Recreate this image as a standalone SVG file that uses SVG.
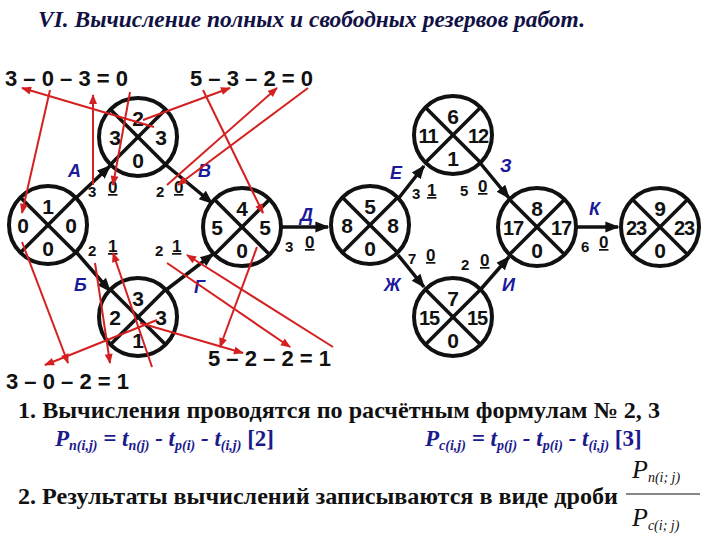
<svg xmlns="http://www.w3.org/2000/svg" width="720" height="540" viewBox="0 0 720 540">
<defs>
<marker id="ab" viewBox="0 0 10 10" refX="9" refY="5" markerWidth="4" markerHeight="4" orient="auto"><path d="M0,1 L10,5 L0,9 z" fill="#111"/></marker>
<marker id="ar" viewBox="0 0 10 10" refX="9" refY="5" markerWidth="6" markerHeight="5" orient="auto"><path d="M0,1 L10,5 L0,9 z" fill="#d42020"/></marker>
</defs>
<style>
.c{fill:#fff;stroke:#111;stroke-width:4}
.x{stroke:#111;stroke-width:3.5}
.n{font-family:"Liberation Sans",Arial,sans-serif;font-weight:bold;font-size:21px;fill:#111;text-anchor:middle}
.n2{font-family:"Liberation Sans",Arial,sans-serif;font-weight:bold;font-size:20px;fill:#111;text-anchor:middle;letter-spacing:-1px}
.e{stroke:#111;stroke-width:3.5;fill:none;marker-end:url(#ab)}
.r{stroke:#d42020;stroke-width:2;fill:none;marker-end:url(#ar)}
.lb{font-family:"Liberation Sans",Arial,sans-serif;font-weight:bold;font-style:italic;font-size:18px;fill:#1a1a9a}
.s{font-family:"Liberation Sans",Arial,sans-serif;font-weight:bold;font-size:15px;fill:#111}
.u{font-family:"Liberation Sans",Arial,sans-serif;font-weight:bold;font-size:17px;fill:#111;text-decoration:underline}
.eq{font-family:"Liberation Sans",Arial,sans-serif;font-weight:bold;font-size:22px;fill:#111}
.t{font-family:"Liberation Serif","Times New Roman",serif;font-weight:bold;font-size:23px;fill:#111}
.f{font-family:"Liberation Serif","Times New Roman",serif;font-weight:bold;font-style:italic;font-size:23px;fill:#1a1a8c}
.fs{font-size:14px}
.fr{font-family:"Liberation Serif","Times New Roman",serif;font-style:italic;font-size:26px;fill:#111}
</style>
<text x="38" y="27" textLength="547" lengthAdjust="spacingAndGlyphs" style="font-family:'Liberation Serif',serif;font-weight:bold;font-style:italic;font-size:23px;fill:#111144">VI. Вычисление полных и свободных резервов работ.</text>

<g id="connectors">
<line class="e" x1="77" y1="197" x2="110" y2="166"/>
<line class="e" x1="166" y1="165" x2="212" y2="203"/>
<line class="e" x1="77" y1="253" x2="110" y2="291"/>
<line class="e" x1="166" y1="290" x2="213" y2="254"/>
<line class="e" x1="282" y1="227" x2="328" y2="227"/>
<line class="e" x1="398" y1="199" x2="424" y2="166"/>
<line class="e" x1="398" y1="255" x2="424" y2="287"/>
<line class="e" x1="481" y1="164" x2="509" y2="198"/>
<line class="e" x1="481" y1="289" x2="509" y2="257"/>
<line class="e" x1="577" y1="227" x2="618" y2="227"/>
</g>

<g id="n1"><circle class="c" cx="48" cy="225" r="39"/><line class="x" x1="20.5" y1="197.5" x2="75.5" y2="252.5"/><line class="x" x1="75.5" y1="197.5" x2="20.5" y2="252.5"/>
<text class="n" x="48" y="214">1</text><text class="n" x="23" y="233">0</text><text class="n" x="71" y="233">0</text><text class="n" x="48" y="256">0</text></g>
<g id="n2"><circle class="c" cx="138" cy="137" r="39"/><line class="x" x1="110.5" y1="109.5" x2="165.5" y2="164.5"/><line class="x" x1="165.5" y1="109.5" x2="110.5" y2="164.5"/>
<text class="n" x="138" y="126">2</text><text class="n" x="115" y="145">3</text><text class="n" x="161" y="145">3</text><text class="n" x="138" y="168">0</text></g>
<g id="n3"><circle class="c" cx="138" cy="317" r="39"/><line class="x" x1="110.5" y1="289.5" x2="165.5" y2="344.5"/><line class="x" x1="165.5" y1="289.5" x2="110.5" y2="344.5"/>
<text class="n" x="138" y="306">3</text><text class="n" x="115" y="325">2</text><text class="n" x="161" y="325">3</text><text class="n" x="138" y="348">1</text></g>
<g id="n4"><circle class="c" cx="242" cy="227" r="39"/><line class="x" x1="214.5" y1="199.5" x2="269.5" y2="254.5"/><line class="x" x1="269.5" y1="199.5" x2="214.5" y2="254.5"/>
<text class="n" x="242" y="216">4</text><text class="n" x="217" y="235">5</text><text class="n" x="265" y="235">5</text><text class="n" x="242" y="258">0</text></g>
<g id="n5"><circle class="c" cx="370" cy="225" r="39"/><line class="x" x1="342.5" y1="197.5" x2="397.5" y2="252.5"/><line class="x" x1="397.5" y1="197.5" x2="342.5" y2="252.5"/>
<text class="n" x="370" y="214">5</text><text class="n" x="347" y="233">8</text><text class="n" x="393" y="233">8</text><text class="n" x="370" y="256">0</text></g>
<g id="n6"><circle class="c" cx="453" cy="135" r="39"/><line class="x" x1="425.5" y1="107.5" x2="480.5" y2="162.5"/><line class="x" x1="480.5" y1="107.5" x2="425.5" y2="162.5"/>
<text class="n" x="453" y="124">6</text><text class="n2" x="428" y="143">11</text><text class="n2" x="478" y="143">12</text><text class="n" x="453" y="166">1</text></g>
<g id="n7"><circle class="c" cx="453" cy="317" r="39"/><line class="x" x1="425.5" y1="289.5" x2="480.5" y2="344.5"/><line class="x" x1="480.5" y1="289.5" x2="425.5" y2="344.5"/>
<text class="n" x="453" y="306">7</text><text class="n2" x="429" y="325">15</text><text class="n2" x="477" y="325">15</text><text class="n" x="453" y="348">0</text></g>
<g id="n8"><circle class="c" cx="537" cy="227" r="39"/><line class="x" x1="509.5" y1="199.5" x2="564.5" y2="254.5"/><line class="x" x1="564.5" y1="199.5" x2="509.5" y2="254.5"/>
<text class="n" x="537" y="216">8</text><text class="n2" x="513" y="235">17</text><text class="n2" x="561" y="235">17</text><text class="n" x="537" y="258">0</text></g>
<g id="n9"><circle class="c" cx="660" cy="227" r="39"/><line class="x" x1="632.5" y1="199.5" x2="687.5" y2="254.5"/><line class="x" x1="687.5" y1="199.5" x2="632.5" y2="254.5"/>
<text class="n" x="660" y="216">9</text><text class="n2" x="636" y="235">23</text><text class="n2" x="684" y="235">23</text><text class="n" x="660" y="258">0</text></g>

<g id="labels">
<text class="lb" x="68" y="177">А</text><text class="s" x="88" y="197">3</text><text class="u" x="108" y="193">0</text>
<text class="lb" x="198" y="177">В</text><text class="s" x="156" y="197">2</text><text class="u" x="174" y="193">0</text>
<text class="lb" x="74" y="291">Б</text><text class="s" x="88" y="256">2</text><text class="u" x="108" y="252">1</text>
<text class="lb" x="194" y="293">Г</text><text class="s" x="155" y="256">2</text><text class="u" x="172" y="252">1</text>
<text class="lb" x="300" y="221">Д</text><text class="s" x="285" y="252">3</text><text class="u" x="305" y="248">0</text>
<text class="lb" x="390" y="179">Е</text><text class="s" x="412" y="199">3</text><text class="u" x="427" y="196">1</text>
<text class="lb" x="500" y="172">З</text><text class="s" x="460" y="196">5</text><text class="u" x="478" y="192">0</text>
<text class="lb" x="384" y="291">Ж</text><text class="s" x="408" y="264">7</text><text class="u" x="426" y="261">0</text>
<text class="lb" x="502" y="291">И</text><text class="s" x="461" y="270">2</text><text class="u" x="480" y="266">0</text>
<text class="lb" x="589" y="215">К</text><text class="s" x="581" y="252">6</text><text class="u" x="599" y="248">0</text>
</g>

<g id="equations">
<text class="eq" x="5" y="86">3 – 0 – 3 = 0</text>
<text class="eq" x="190" y="86">5 – 3 – 2 = 0</text>
<text class="eq" x="6" y="389">3 – 0 – 2 = 1</text>
<text class="eq" x="208" y="366">5 – 2 – 2 = 1</text>
</g>

<g id="red">
<line class="r" x1="154" y1="127" x2="22" y2="88"/>
<line class="r" x1="50" y1="90" x2="22" y2="213"/>
<line class="r" x1="93" y1="185" x2="93" y2="95"/>
<line class="r" x1="130" y1="92" x2="113" y2="185"/>
<line class="r" x1="143" y1="120" x2="230" y2="88"/>
<line class="r" x1="167" y1="185" x2="277" y2="88"/>
<line class="r" x1="308" y1="88" x2="178" y2="185"/>
<line class="r" x1="203" y1="90" x2="263" y2="213"/>
<line class="r" x1="22" y1="242" x2="68" y2="363"/>
<line class="r" x1="95" y1="263" x2="110" y2="363"/>
<line class="r" x1="152" y1="367" x2="113" y2="253"/>
<line class="r" x1="157" y1="320" x2="45" y2="365"/>
<line class="r" x1="140" y1="323" x2="243" y2="353"/>
<line class="r" x1="257" y1="247" x2="220" y2="347"/>
<line class="r" x1="167" y1="263" x2="290" y2="347"/>
<line class="r" x1="333" y1="347" x2="187" y2="255"/>
</g>

<g id="text">
<text class="t" x="18" y="418" textLength="642" lengthAdjust="spacingAndGlyphs">1. Вычисления проводятся по расчётным формулам № 2, 3</text>
<text class="f" x="55" y="446">P<tspan class="fs" dy="4">n(i,j)</tspan><tspan dy="-4"> = t</tspan><tspan class="fs" dy="4">n(j)</tspan><tspan dy="-4"> - t</tspan><tspan class="fs" dy="4">p(i)</tspan><tspan dy="-4"> - t</tspan><tspan class="fs" dy="4">(i,j)</tspan><tspan dy="-4" font-style="normal">   [2]</tspan></text>
<text class="f" x="425" y="446">P<tspan class="fs" dy="4">c(i,j)</tspan><tspan dy="-4"> = t</tspan><tspan class="fs" dy="4">p(j)</tspan><tspan dy="-4"> - t</tspan><tspan class="fs" dy="4">p(i)</tspan><tspan dy="-4"> - t</tspan><tspan class="fs" dy="4">(i,j)</tspan><tspan dy="-4" font-style="normal">   [3]</tspan></text>
<text class="t" x="18" y="504" textLength="600" lengthAdjust="spacingAndGlyphs">2. Результаты вычислений записываются в виде дроби</text>
<text class="fr" x="632" y="478">P<tspan font-size="14px" dy="4">n(i; j)</tspan></text>
<line x1="626" y1="494" x2="700" y2="494" stroke="#111" stroke-width="1.2"/>
<text class="fr" x="632" y="526">P<tspan font-size="14px" dy="4">c(i; j)</tspan></text>
</g>
</svg>
